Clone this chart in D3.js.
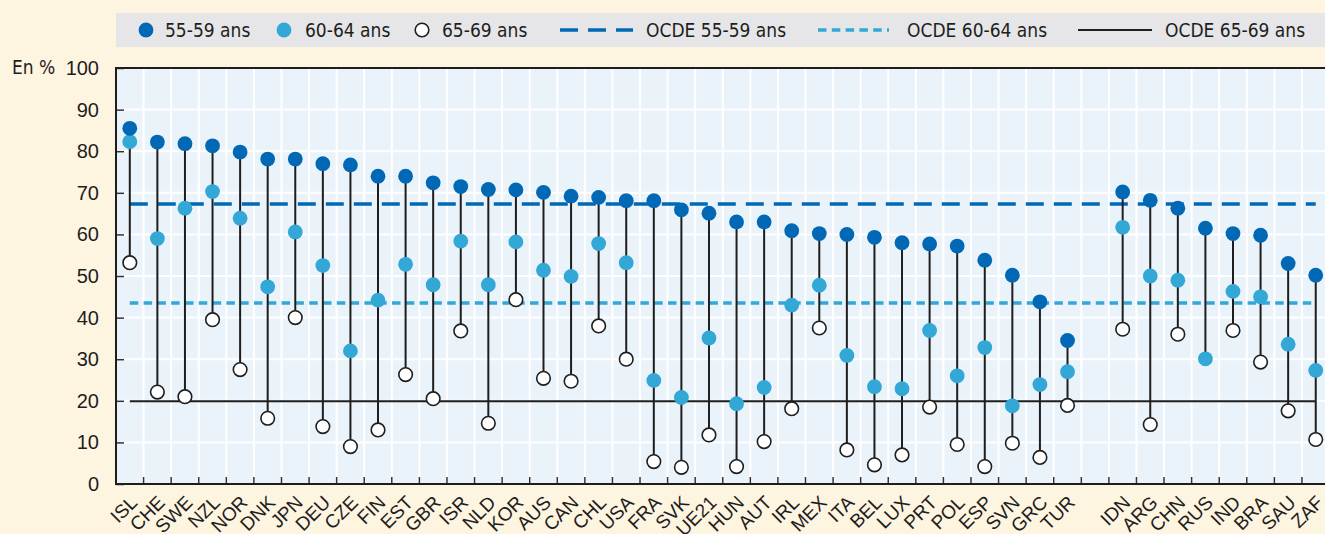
<!DOCTYPE html>
<html>
<head>
<meta charset="utf-8">
<script src="https://cdn.jsdelivr.net/npm/d3@7"></script>
<style>
  body { margin: 0; background: #fef5e1; }
  svg { display: block; font-family: "Liberation Sans Narrow", "Arial Narrow", "DejaVu Sans Condensed", sans-serif; }
</style>
</head>
<body>
<svg id="chart" width="1325" height="534"></svg>
<script>
// countries, OECD members first, then the partner economies after a gap
var countries = ['ISL','CHE','SWE','NZL','NOR','DNK','JPN','DEU','CZE','FIN','EST','GBR','ISR','NLD','KOR',
  'AUS','CAN','CHL','USA','FRA','SVK','UE21','HUN','AUT','IRL','MEX','ITA','BEL','LUX','PRT','POL','ESP',
  'SVN','GRC','TUR','IDN','ARG','CHN','RUS','IND','BRA','SAU','ZAF'];
var gapAfter = 'TUR';

// employment rates, in %
var age5559 = [85.5,82.2,81.8,81.3,79.8,78.1,78.1,77.0,76.7,74.0,74.0,72.4,71.5,70.8,70.7,
  70.1,69.2,68.9,68.1,68.1,65.9,65.1,63.0,63.0,60.9,60.2,60.0,59.3,58.0,57.7,57.2,53.8,
  50.2,43.8,34.5,70.2,68.2,66.3,61.5,60.2,59.8,53.0,50.2];
var age6064 = [82.3,59.0,66.3,70.3,63.9,47.4,60.6,52.5,32.0,44.2,52.8,47.9,58.4,47.9,58.2,
  51.4,49.9,57.8,53.2,24.9,20.8,35.1,19.3,23.2,43.0,47.8,30.9,23.4,22.9,36.9,26.0,32.8,
  18.8,23.9,27.0,61.7,50.0,49.0,30.1,46.3,45.0,33.6,27.3];
var age6569 = [53.2,22.1,21.0,39.5,27.5,15.8,40.0,13.8,9.0,13.0,26.3,20.5,36.8,14.6,44.3,
  25.4,24.7,38.0,30.0,5.4,4.0,11.8,4.2,10.2,18.1,37.5,8.2,4.6,7.0,18.5,9.5,4.2,
  9.8,6.4,18.9,37.2,14.3,36.0,null,36.9,29.3,17.6,10.7];

// OECD averages
var oecdLabels = ['OCDE 55-59 ans','OCDE 60-64 ans','OCDE 65-69 ans'];
var oecdValues = [67.3, 43.5, 19.9];

var yTicks = [0,10,20,30,40,50,60,70,80,90,100];

var dark = '#0068b5', light = '#33a8d7', ink = '#1e1e1e';

var svg = d3.select('#chart');

var slots = [];
countries.forEach(function(c) {
  slots.push(c);
  if (c === gapAfter) slots.push('_gap');
});

var plotLeft = 116, plotTop = 68, plotBottom = 484, step = 27.58;
var x = d3.scaleBand().domain(slots).range([plotLeft, plotLeft + slots.length * step]).padding(0);
var y = d3.scaleLinear().domain([0, 100]).range([plotBottom, plotTop]);
var plotRight = plotLeft + slots.length * step;

// plot background + grid
svg.append('rect').attr('x', plotLeft).attr('y', plotTop)
  .attr('width', plotRight - plotLeft).attr('height', plotBottom - plotTop)
  .attr('fill', '#eaf3fa');

svg.append('g').selectAll('line').data(yTicks.slice(1, -1)).enter().append('line')
  .attr('x1', plotLeft).attr('x2', plotRight)
  .attr('y1', function(d) { return y(d); }).attr('y2', function(d) { return y(d); })
  .attr('stroke', '#fff').attr('stroke-width', 2);

var bounds = slots.map(function(s) { return x(s); });
svg.append('g').selectAll('line').data(bounds.slice(1)).enter().append('line')
  .attr('x1', function(d) { return d; }).attr('x2', function(d) { return d; })
  .attr('y1', plotTop).attr('y2', plotBottom)
  .attr('stroke', '#fff').attr('stroke-width', 2);

// x boundary ticks
svg.append('g').selectAll('line').data(bounds.slice(1)).enter().append('line')
  .attr('x1', function(d) { return d; }).attr('x2', function(d) { return d; })
  .attr('y1', plotBottom - 7).attr('y2', plotBottom)
  .attr('stroke', '#333').attr('stroke-width', 1.5);

// y axis
var yAxis = svg.append('g').attr('transform', 'translate(' + plotLeft + ',0)')
  .call(d3.axisLeft(y).tickValues(yTicks).tickSize(-8).tickPadding(17));
yAxis.select('.domain').remove();
yAxis.selectAll('.tick line').attr('stroke', '#333').attr('stroke-width', 1.5);
yAxis.selectAll('.tick text').attr('font-size', 20).attr('fill', ink).attr('font-family', null);

svg.append('text').attr('x', 12).attr('y', y(100)).attr('dy', '0.32em')
  .attr('font-size', 19).attr('fill', ink).text('En %');

// frame
svg.append('path')
  .attr('d', 'M' + plotRight + ',' + plotTop + 'H' + plotLeft + 'V' + plotBottom + 'H' + plotRight)
  .attr('fill', 'none').attr('stroke', ink).attr('stroke-width', 2);

// x labels
var xAxis = svg.append('g').attr('transform', 'translate(0,' + plotBottom + ')')
  .call(d3.axisBottom(x).tickValues(countries).tickSize(0).tickPadding(0));
xAxis.select('.domain').remove();
xAxis.selectAll('.tick text')
  .attr('font-size', 19).attr('fill', ink).attr('font-family', null)
  .attr('text-anchor', 'end').attr('dy', '0.35em')
  .attr('transform', 'translate(4,15) rotate(-45)');

// OECD lines
var first = x(countries[0]) + x.bandwidth() / 2;
var last = x(countries[countries.length - 1]) + x.bandwidth() / 2;
var oecdStyles = [
  { color: dark, width: 3.5, dash: '18,10' },
  { color: light, width: 3.5, dash: '8.5,5.3' },
  { color: ink, width: 2, dash: null }
];
svg.append('g').selectAll('line').data(oecdValues).enter().append('line')
  .attr('x1', first).attr('x2', last)
  .attr('y1', function(d) { return y(d); }).attr('y2', function(d) { return y(d); })
  .attr('stroke', function(d, i) { return oecdStyles[i].color; })
  .attr('stroke-width', function(d, i) { return oecdStyles[i].width; })
  .attr('stroke-dasharray', function(d, i) { return oecdStyles[i].dash; });

// rows
var rows = countries.map(function(c, i) {
  return { c: c, a: age5559[i], b: age6064[i], o: age6569[i] };
});
function cx(d) { return x(d.c) + x.bandwidth() / 2; }

svg.append('g').selectAll('line').data(rows).enter().append('line')
  .attr('x1', cx).attr('x2', cx)
  .attr('y1', function(d) { return y(d3.max([d.a, d.b, d.o])); })
  .attr('y2', function(d) { return y(d3.min([d.a, d.b, d.o].filter(function(v) { return v != null; }))); })
  .attr('stroke', ink).attr('stroke-width', 2);

svg.append('g').selectAll('circle').data(rows.filter(function(d) { return d.o != null; })).enter().append('circle')
  .attr('cx', cx).attr('cy', function(d) { return y(d.o); }).attr('r', 6.8)
  .attr('fill', '#fff').attr('stroke', ink).attr('stroke-width', 1.6);

svg.append('g').selectAll('circle').data(rows).enter().append('circle')
  .attr('cx', cx).attr('cy', function(d) { return y(d.b); }).attr('r', 7.4)
  .attr('fill', light);

svg.append('g').selectAll('circle').data(rows).enter().append('circle')
  .attr('cx', cx).attr('cy', function(d) { return y(d.a); }).attr('r', 7.4)
  .attr('fill', dark);

// legend
var lg = svg.append('g');
lg.append('rect').attr('x', 116).attr('y', 13).attr('width', 1209).attr('height', 34).attr('fill', '#e6e6e8');
var ly = 30;
var dotItems = [
  { x: 146, tx: 165, fill: dark, stroke: 'none', label: '55-59 ans' },
  { x: 284, tx: 305, fill: light, stroke: 'none', label: '60-64 ans' },
  { x: 422, tx: 442, fill: '#fff', stroke: ink, label: '65-69 ans' }
];
dotItems.forEach(function(it) {
  lg.append('circle').attr('cx', it.x).attr('cy', ly).attr('r', it.stroke === 'none' ? 7.4 : 6.8)
    .attr('fill', it.fill).attr('stroke', it.stroke).attr('stroke-width', 1.6);
  lg.append('text').attr('x', it.tx).attr('y', ly).attr('dy', '0.35em')
    .attr('font-size', 19).attr('fill', ink).text(it.label);
});
var lineItems = [
  { x1: 560, x2: 633, tx: 646 },
  { x1: 818, x2: 889, tx: 907 },
  { x1: 1078, x2: 1152, tx: 1165 }
];
lineItems.forEach(function(it, i) {
  lg.append('line').attr('x1', it.x1).attr('x2', it.x2).attr('y1', ly).attr('y2', ly)
    .attr('stroke', oecdStyles[i].color).attr('stroke-width', oecdStyles[i].width)
    .attr('stroke-dasharray', oecdStyles[i].dash);
  lg.append('text').attr('x', it.tx).attr('y', ly).attr('dy', '0.35em')
    .attr('font-size', 19).attr('fill', ink).text(oecdLabels[i]);
});
</script>
</body>
</html>
